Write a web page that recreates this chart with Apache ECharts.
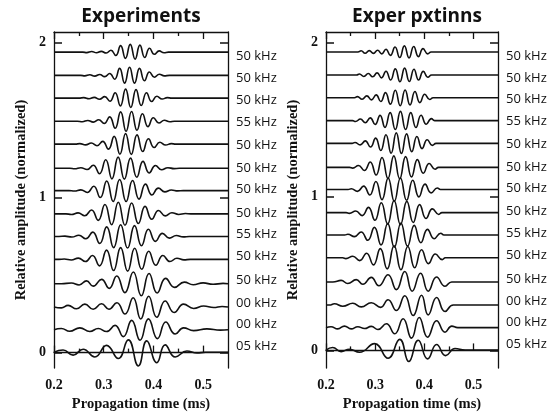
<!DOCTYPE html>
<html>
<head>
<meta charset="utf-8">
<script src="https://cdn.jsdelivr.net/npm/echarts@6/dist/echarts.min.js"></script>
<style>
  html, body { margin: 0; padding: 0; background: #fff; }
  #chart { width: 560px; height: 417px; }
</style>
</head>
<body>
<div id="chart"></div>
<script>
// 频率标签（上到下）
const freqLabels = ['50 kHz', '50 kHz', '50 kHz', '55 kHz', '50 kHz', '50 kHz', '50 kHz',
  '50 kHz', '55 kHz', '50 kHz', '50 kHz', '00 kHz', '00 kHz', '05 kHz'];
// 每条波形的基线偏移
const traceOffsets = [1.94, 1.79, 1.643, 1.494, 1.346, 1.19, 1.046, 0.896, 0.75, 0.602, 0.445, 0.295, 0.148, 0.002];
const panelTitles = ['Experiments', 'Exper pxtinns'];
const xMajorTicks = [0.2, 0.3, 0.4, 0.5];
const xMinorTicks = [0.25, 0.35, 0.45];
const yTicks = [0, 1, 2];

// 实验波形：[时间 ms, 相对幅值] 极值点
const expWaves = [
  [[0.258,0],[0.266,-0.003],[0.2758,0.004],[0.2855,-0.004],[0.2952,0.005],[0.305,-0.006],[0.3146,0.012],[0.3243,-0.022],[0.334,0.042],[0.3437,-0.04],[0.3534,0.05],[0.3631,-0.045],[0.3728,0.045],[0.3825,-0.035],[0.3922,0.025],[0.4019,-0.014],[0.4116,0.008],[0.4213,-0.004],[0.43,0]],
  [[0.254,0],[0.262,-0.003],[0.272,0.004],[0.282,-0.005],[0.292,0.006],[0.302,-0.008],[0.312,0.012],[0.322,-0.025],[0.332,0.045],[0.342,-0.05],[0.352,0.052],[0.362,-0.05],[0.372,0.045],[0.382,-0.035],[0.392,0.022],[0.402,-0.012],[0.412,0.007],[0.422,-0.003],[0.432,0]],
  [[0.25,0],[0.26,0.003],[0.2705,-0.004],[0.281,0.005],[0.2915,-0.007],[0.302,0.01],[0.3125,-0.02],[0.323,0.035],[0.3335,-0.05],[0.344,0.058],[0.3545,-0.06],[0.365,0.055],[0.3755,-0.048],[0.386,0.035],[0.3965,-0.022],[0.407,0.012],[0.4175,-0.006],[0.428,0.003],[0.437,0]],
  [[0.247,0],[0.257,-0.003],[0.268,0.005],[0.279,-0.006],[0.29,0.009],[0.301,-0.015],[0.312,0.028],[0.323,-0.045],[0.334,0.06],[0.345,-0.065],[0.356,0.063],[0.367,-0.058],[0.378,0.048],[0.389,-0.035],[0.4,0.022],[0.411,-0.012],[0.422,0.006],[0.433,-0.003],[0.442,0]],
  [[0.243,0],[0.252,0.003],[0.2635,-0.005],[0.275,0.007],[0.2865,-0.01],[0.298,0.018],[0.3095,-0.032],[0.321,0.05],[0.3325,-0.065],[0.344,0.068],[0.3555,-0.066],[0.367,0.06],[0.3785,-0.048],[0.39,0.035],[0.4015,-0.022],[0.413,0.012],[0.4245,-0.006],[0.436,0.003],[0.445,0]],
  [[0.232,0],[0.2415,-0.003],[0.254,0.004],[0.2665,-0.008],[0.279,0.02],[0.2915,-0.035],[0.304,0.055],[0.3165,-0.068],[0.329,0.072],[0.3415,-0.07],[0.354,0.066],[0.3665,-0.058],[0.379,0.045],[0.3915,-0.03],[0.404,0.018],[0.4165,-0.009],[0.429,0.004],[0.4415,-0.002],[0.452,0]],
  [[0.23,0],[0.241,-0.003],[0.254,0.005],[0.267,-0.012],[0.28,0.028],[0.293,-0.045],[0.306,0.062],[0.319,-0.07],[0.332,0.072],[0.345,-0.07],[0.358,0.065],[0.371,-0.055],[0.384,0.042],[0.397,-0.028],[0.41,0.016],[0.423,-0.008],[0.436,0.004],[0.449,-0.002],[0.46,0]],
  [[0.224,0],[0.2349,-0.004],[0.2484,0.006],[0.2619,-0.012],[0.2754,0.025],[0.2889,-0.042],[0.3024,0.06],[0.3159,-0.07],[0.3293,0.075],[0.3428,-0.074],[0.3562,0.07],[0.3697,-0.062],[0.3832,0.048],[0.3967,-0.035],[0.4102,0.022],[0.4237,-0.013],[0.4372,0.007],[0.4507,-0.004],[0.4642,0.002],[0.475,0]],
  [[0.21,0],[0.222,0.002],[0.236,-0.004],[0.25,0.008],[0.264,-0.015],[0.278,0.028],[0.292,-0.045],[0.306,0.062],[0.32,-0.072],[0.334,0.076],[0.348,-0.075],[0.362,0.07],[0.376,-0.06],[0.39,0.046],[0.404,-0.032],[0.418,0.02],[0.432,-0.011],[0.446,0.006],[0.46,-0.003],[0.472,0]],
  [[0.21,0],[0.2207,0.002],[0.2348,-0.004],[0.249,0.008],[0.2632,-0.014],[0.2773,0.025],[0.2915,-0.042],[0.3057,0.06],[0.3198,-0.072],[0.334,0.076],[0.3482,-0.076],[0.3623,0.072],[0.3765,-0.064],[0.3906,0.052],[0.4048,-0.038],[0.419,0.025],[0.4332,-0.014],[0.4473,0.007],[0.4615,-0.003],[0.474,0]],
  [[0.215,0],[0.235,0.004],[0.2505,-0.008],[0.2653,0.018],[0.2788,-0.016],[0.2956,0.028],[0.311,-0.03],[0.3262,0.05],[0.3425,-0.058],[0.3596,0.075],[0.3755,-0.078],[0.3912,0.066],[0.4075,-0.06],[0.4245,0.034],[0.4425,-0.024],[0.462,0.01],[0.48,-0.007],[0.5,0.005],[0.52,-0.004],[0.54,0.002]],
  [[0.2148,-0.006],[0.2283,0.01],[0.2451,-0.012],[0.262,0.018],[0.2788,-0.015],[0.2956,0.02],[0.3105,-0.015],[0.3265,0.027],[0.3428,-0.046],[0.3592,0.059],[0.3744,-0.078],[0.3905,0.069],[0.4067,-0.067],[0.4236,0.038],[0.4418,-0.036],[0.4606,0.018],[0.4808,-0.01],[0.501,0.006],[0.5212,-0.004],[0.538,0.003]],
  [[0.2148,0.008],[0.2316,-0.01],[0.2519,0.012],[0.272,-0.012],[0.2889,0.008],[0.3057,-0.012],[0.3228,0.028],[0.3394,-0.045],[0.3562,0.06],[0.3731,-0.068],[0.3899,0.07],[0.4081,-0.058],[0.4249,0.05],[0.4438,-0.028],[0.4606,0.012],[0.4808,-0.006],[0.5077,0.005],[0.5347,-0.003]],
  [[0.2182,0.015],[0.2384,-0.018],[0.2586,0.02],[0.2822,-0.03],[0.3057,0.045],[0.3293,-0.04],[0.3495,0.08],[0.3697,-0.088],[0.3865,0.074],[0.4067,-0.067],[0.4236,0.048],[0.4438,-0.03],[0.4673,0.008],[0.4875,-0.004],[0.505,0]]
];

// 模拟波形
const simWaves = [
  [[0.265,0],[0.2715,0.008],[0.2795,-0.008],[0.288,0.009],[0.2965,-0.009],[0.305,0.011],[0.3135,-0.012],[0.322,0.018],[0.331,-0.022],[0.3405,0.032],[0.35,-0.036],[0.3595,0.04],[0.369,-0.038],[0.3785,0.036],[0.388,-0.03],[0.3975,0.022],[0.407,-0.012],[0.414,0]],
  [[0.262,0],[0.268,0.007],[0.277,-0.009],[0.286,0.01],[0.295,-0.011],[0.304,0.014],[0.313,-0.018],[0.322,0.025],[0.3315,-0.032],[0.341,0.04],[0.3505,-0.043],[0.36,0.045],[0.3695,-0.042],[0.379,0.038],[0.3885,-0.032],[0.398,0.024],[0.4075,-0.014],[0.415,0]],
  [[0.258,0],[0.264,0.007],[0.2735,-0.01],[0.283,0.012],[0.2925,-0.014],[0.302,0.018],[0.3115,-0.025],[0.321,0.033],[0.331,-0.042],[0.341,0.048],[0.351,-0.052],[0.361,0.05],[0.371,-0.047],[0.381,0.04],[0.391,-0.032],[0.401,0.022],[0.411,-0.012],[0.418,0]],
  [[0.254,0],[0.26,-0.006],[0.27,0.01],[0.28,-0.014],[0.29,0.018],[0.3,-0.025],[0.31,0.034],[0.32,-0.044],[0.3305,0.052],[0.341,-0.058],[0.3515,0.06],[0.362,-0.058],[0.3725,0.052],[0.383,-0.045],[0.3935,0.035],[0.404,-0.024],[0.4145,0.013],[0.421,0]],
  [[0.253,0],[0.259,0.006],[0.2695,-0.01],[0.28,0.016],[0.2905,-0.024],[0.301,0.034],[0.3115,-0.046],[0.322,0.056],[0.3325,-0.064],[0.343,0.068],[0.3535,-0.066],[0.364,0.062],[0.3745,-0.054],[0.385,0.045],[0.3955,-0.034],[0.406,0.024],[0.4165,-0.013],[0.424,0]],
  [[0.248,0],[0.2545,-0.005],[0.266,0.012],[0.278,-0.02],[0.29,0.035],[0.302,-0.05],[0.314,0.064],[0.326,-0.072],[0.338,0.075],[0.35,-0.074],[0.362,0.07],[0.374,-0.062],[0.386,0.05],[0.398,-0.038],[0.41,0.025],[0.422,-0.012],[0.429,0]],
  [[0.245,0],[0.2515,0.005],[0.264,-0.012],[0.2765,0.022],[0.289,-0.036],[0.3015,0.052],[0.314,-0.066],[0.3265,0.074],[0.339,-0.077],[0.3515,0.075],[0.364,-0.07],[0.3765,0.06],[0.389,-0.048],[0.4015,0.035],[0.414,-0.022],[0.4265,0.01],[0.433,0]],
  [[0.241,0],[0.2475,-0.005],[0.2605,0.01],[0.2735,-0.02],[0.2865,0.034],[0.2995,-0.05],[0.3125,0.064],[0.3255,-0.074],[0.3385,0.079],[0.3515,-0.078],[0.3645,0.073],[0.3775,-0.064],[0.3905,0.052],[0.4035,-0.038],[0.4165,0.024],[0.4295,-0.012],[0.436,0]],
  [[0.238,0],[0.2445,0.005],[0.258,-0.01],[0.2715,0.02],[0.285,-0.034],[0.2985,0.05],[0.312,-0.064],[0.3255,0.074],[0.339,-0.079],[0.3525,0.078],[0.366,-0.072],[0.3795,0.063],[0.393,-0.05],[0.4065,0.037],[0.42,-0.024],[0.4335,0.012],[0.44,0]],
  [[0.234,0],[0.2405,-0.005],[0.2545,0.01],[0.2685,-0.018],[0.2825,0.03],[0.2965,-0.046],[0.3105,0.06],[0.3245,-0.072],[0.3385,0.078],[0.3525,-0.078],[0.3665,0.074],[0.3805,-0.065],[0.3945,0.052],[0.4085,-0.038],[0.4225,0.025],[0.4365,-0.012],[0.443,0]],
  [[0.214,0],[0.2307,0.01],[0.2443,-0.01],[0.2614,0.015],[0.275,-0.015],[0.2921,0.03],[0.3075,-0.025],[0.3262,0.047],[0.3432,-0.05],[0.3603,0.068],[0.3753,-0.06],[0.3924,0.057],[0.408,-0.06],[0.4251,0.032],[0.4422,-0.028],[0.4558,0]],
  [[0.207,0],[0.2171,0.008],[0.2341,-0.008],[0.2546,0.012],[0.2716,-0.012],[0.2921,0.015],[0.3112,-0.015],[0.3262,0.034],[0.3432,-0.036],[0.3603,0.06],[0.3774,-0.068],[0.3944,0.064],[0.408,-0.064],[0.4251,0.049],[0.4422,-0.042],[0.4592,0]],
  [[0.2102,0.006],[0.2239,-0.008],[0.2375,0.01],[0.2512,-0.008],[0.2648,0.006],[0.2785,-0.006],[0.2921,0.008],[0.3057,-0.012],[0.3228,0.025],[0.3398,-0.04],[0.3569,0.058],[0.3739,-0.068],[0.3897,0.066],[0.4067,-0.062],[0.4251,0.045],[0.4422,-0.03],[0.456,0.01],[0.468,0]],
  [[0.2136,0.017],[0.2307,-0.01],[0.2477,0.006],[0.2682,-0.014],[0.2989,0.042],[0.3262,-0.053],[0.3501,0.07],[0.3685,-0.074],[0.3876,0.064],[0.4067,-0.057],[0.4251,0.036],[0.4435,-0.036],[0.4626,0.01],[0.4831,0]]
];

const xMin = 0.2, xMax = 0.55;
const serif = 'Liberation Serif';
const ink = '#111';

const grids = [
  { left: 54, top: 32, width: 174, height: 343, yMin: -0.1, yMax: 2.07 },
  { left: 326, top: 32, width: 172, height: 342, yMin: -0.115, yMax: 2.07 }
];

function traceData(wave, offset) {
  const pts = [[xMin, offset]];
  wave.forEach(([t, a]) => pts.push([t, offset + a]));
  pts.push([xMax, offset]);
  return pts;
}

const xAxes = [];
const yAxes = [];
const series = [];

grids.forEach((g, gi) => {
  const line = { show: true, lineStyle: { color: ink, width: 1.3 } };
  // bottom major (labels + name)
  xAxes.push({
    type: 'value', gridIndex: gi, position: 'bottom', min: xMin, max: xMax,
    axisLine: line, splitLine: { show: false },
    axisTick: { show: true, inside: true, length: 7, customValues: xMajorTicks, lineStyle: { color: ink, width: 1.3 } },
    axisLabel: { customValues: xMajorTicks, margin: 10, fontFamily: serif, fontWeight: 'bold', fontSize: 14, color: ink,
      formatter: v => v.toFixed(1) },
    name: 'Propagation time (ms)', nameLocation: 'middle', nameGap: 25,
    nameTextStyle: { fontFamily: serif, fontWeight: 'bold', fontSize: 14.5, color: ink }
  });
  // bottom minor ticks
  xAxes.push({
    type: 'value', gridIndex: gi, position: 'bottom', min: xMin, max: xMax,
    axisLine: { show: false }, splitLine: { show: false }, axisLabel: { show: false },
    axisTick: { show: true, inside: true, length: 4, customValues: xMinorTicks, lineStyle: { color: ink, width: 1.3 } }
  });
  // top major + minor ticks
  xAxes.push({
    type: 'value', gridIndex: gi, position: 'top', min: xMin, max: xMax,
    axisLine: line, splitLine: { show: false }, axisLabel: { show: false },
    axisTick: { show: true, inside: true, length: 7, customValues: xMajorTicks, lineStyle: { color: ink, width: 1.3 } }
  });
  xAxes.push({
    type: 'value', gridIndex: gi, position: 'top', min: xMin, max: xMax,
    axisLine: { show: false }, splitLine: { show: false }, axisLabel: { show: false },
    axisTick: { show: true, inside: true, length: 4, customValues: xMinorTicks, lineStyle: { color: ink, width: 1.3 } }
  });
  yAxes.push({
    type: 'value', gridIndex: gi, position: 'left', min: g.yMin, max: g.yMax,
    axisLine: line, splitLine: { show: false },
    axisTick: { show: true, inside: true, length: 8, customValues: yTicks, lineStyle: { color: ink, width: 1.5 } },
    axisLabel: { customValues: yTicks, margin: 8, fontFamily: serif, fontWeight: 'bold', fontSize: 14, color: ink },
    name: 'Relative amplitude (normalized)', nameLocation: 'middle', nameGap: 25,
    nameTextStyle: { fontFamily: serif, fontWeight: 'bold', fontSize: 14.5, color: ink }
  });
  yAxes.push({
    type: 'value', gridIndex: gi, position: 'right', min: g.yMin, max: g.yMax,
    axisLine: line, splitLine: { show: false }, axisLabel: { show: false },
    axisTick: { show: true, inside: true, length: 8, customValues: yTicks, lineStyle: { color: ink, width: 1.5 } }
  });

  const waves = gi === 0 ? expWaves : simWaves;
  waves.forEach((w, k) => {
    series.push({
      type: 'line', xAxisIndex: gi * 4, yAxisIndex: gi * 2,
      data: traceData(w, traceOffsets[k]),
      smooth: 0.5, showSymbol: false, symbol: 'none', silent: true,
      lineStyle: { color: ink, width: 1.6 },
      endLabel: {
        show: true, formatter: freqLabels[k], distance: 8,
        offset: [0, Math.round(3.5 - 0.7 * k)],
        fontFamily: 'Open Sans', fontSize: 13, color: ink
      }
    });
  });
});

const chart = echarts.init(document.getElementById('chart'));
chart.setOption({
  animation: false,
  backgroundColor: '#fff',
  title: panelTitles.map((t, i) => ({
    text: t, left: i === 0 ? 141 : 417, top: 7, textAlign: 'center', padding: 0,
    textStyle: { fontFamily: 'Open Sans', fontWeight: 'bold', fontSize: 19, color: ink }
  })),
  grid: grids.map(g => ({ left: g.left, top: g.top, width: g.width, height: g.height })),
  xAxis: xAxes,
  yAxis: yAxes,
  series: series
});
</script>
</body>
</html>
